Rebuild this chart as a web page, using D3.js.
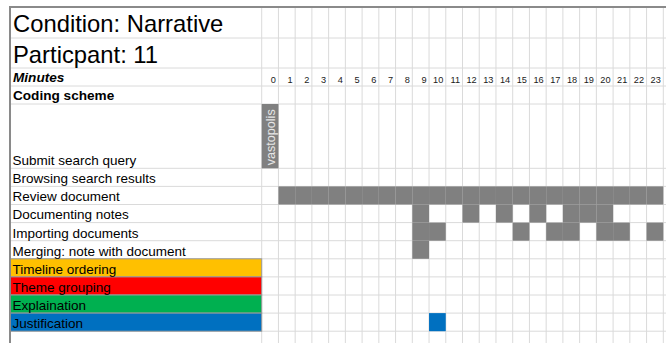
<!DOCTYPE html>
<html>
<head>
<meta charset="utf-8">
<script src="https://cdn.jsdelivr.net/npm/d3@7"></script>
<style>
  html, body { margin: 0; padding: 0; background: #fff; }
  svg { display: block; font-family: "Liberation Sans", Arial, sans-serif; }
</style>
</head>
<body>
<svg id="chart" width="666" height="343"></svg>
<script>
// ---- Data ----
const titleLines = ["Condition: Narrative", "Particpant: 11"];
const minutes = ["0","1","2","3","4","5","6","7","8","9","10","11","12","13","14","15","16","17","18","19","20","21","22","23"];
const codes = ["Submit search query", "Browsing search results", "Review document", "Documenting notes",
               "Importing documents", "Merging: note with document", "Timeline ordering", "Theme grouping",
               "Explaination", "Justification"];
const codeColors = [null, null, null, null, null, null, "#FFC000", "#FF0000", "#00B050", "#0070C0"];
// minutes in which each code occurs
const submitQueries = [{minute: "0", query: "vastopolis"}];
const browsingMinutes = [];
const reviewMinutes = ["1","2","3","4","5","6","7","8","9","10","11","12","13","14","15","16","17","18","19","20","21","22","23"];
const documentingMinutes = ["9","12","14","16","18","19","20"];
const importingMinutes = ["9","10","15","17","18","20","21","23"];
const mergingMinutes = ["9"];
const timelineMinutes = [];
const themeMinutes = [];
const explainMinutes = [];
const justificationMinutes = ["10"];

const rowsMinutes = [
  {code: codes[1], mins: browsingMinutes},
  {code: codes[2], mins: reviewMinutes},
  {code: codes[3], mins: documentingMinutes},
  {code: codes[4], mins: importingMinutes},
  {code: codes[5], mins: mergingMinutes},
  {code: codes[6], mins: timelineMinutes},
  {code: codes[7], mins: themeMinutes},
  {code: codes[8], mins: explainMinutes},
  {code: codes[9], mins: justificationMinutes}
];

// ---- Layout ----
const svg = d3.select("#chart");
const W = 666, H = 343;
const gLeft = 10.5, gTop = 7.5, labelRight = 261.7, gridRight = 663.3;

const x = d3.scaleBand().domain(minutes).range([labelRight, gridRight]);
const headerBounds = [gTop, 38, 68, 86, 104, 168.3];
const rowH = 18.1;
const lowerRows = codes.slice(1).concat(["_blank1", "_blank2"]);
const y = d3.scaleBand().domain(lowerRows).range([168.3, 168.3 + rowH * lowerRows.length]);

const gridColor = "#dadada";
const gray = "#808080";

// grid: horizontal lines
const hLines = headerBounds.slice(1).concat(lowerRows.map(r => y(r) + y.bandwidth()));
svg.append("g").selectAll("line").data(hLines).join("line")
  .attr("x1", gLeft).attr("x2", W).attr("y1", d => d).attr("y2", d => d)
  .attr("stroke", gridColor).attr("stroke-width", 1);

// grid: vertical lines
const vLines = minutes.map(m => x(m)).concat([gridRight]);
svg.append("g").selectAll("line").data(vLines).join("line")
  .attr("x1", d => d).attr("x2", d => d).attr("y1", gTop).attr("y2", H)
  .attr("stroke", gridColor).attr("stroke-width", 1);

// coloured label cells
const colored = codes.map((c, i) => ({c, col: codeColors[i]})).filter(d => d.col);
svg.append("g").selectAll("rect").data(colored).join("rect")
  .attr("x", gLeft).attr("y", d => y(d.c))
  .attr("width", labelRight - gLeft).attr("height", y.bandwidth())
  .attr("fill", d => d.col).attr("stroke", "#9a9a9a").attr("stroke-width", 1);

// activity cells
const cells = [];
rowsMinutes.forEach((r, i) => r.mins.forEach(m => cells.push({code: r.code, m, color: codeColors[i + 1] || gray})));
svg.append("g").selectAll("rect").data(cells).join("rect")
  .attr("x", d => x(d.m)).attr("y", d => y(d.code))
  .attr("width", x.bandwidth()).attr("height", y.bandwidth())
  .attr("fill", d => d.color);

// submit query cells (tall row)
const sq = svg.append("g").selectAll("g").data(submitQueries).join("g");
sq.append("rect")
  .attr("x", d => x(d.minute)).attr("y", headerBounds[4])
  .attr("width", x.bandwidth()).attr("height", headerBounds[5] - headerBounds[4])
  .attr("fill", gray);
sq.append("text")
  .attr("transform", d => `translate(${x(d.minute) + x.bandwidth() / 2 + 4.6},${headerBounds[5] - 3}) rotate(-90)`)
  .attr("font-size", 12.6).attr("fill", "#e6e6e6")
  .text(d => d.query);

// outer border (left & top)
svg.append("line").attr("x1", gLeft - 0.5).attr("x2", gLeft - 0.5).attr("y1", gTop - 1).attr("y2", H)
  .attr("stroke", "#8a8a8a").attr("stroke-width", 2);
svg.append("line").attr("x1", gLeft - 1.5).attr("x2", W).attr("y1", gTop - 0.5).attr("y2", gTop - 0.5)
  .attr("stroke", "#8a8a8a").attr("stroke-width", 2);

// titles
svg.append("g").selectAll("text").data(titleLines).join("text")
  .attr("x", 13).attr("y", (d, i) => [32.3, 63.3][i])
  .attr("font-size", 23.8).attr("fill", "#000").text(d => d);

svg.append("text").attr("x", 13).attr("y", 82)
  .attr("font-size", 13.6).attr("font-weight", "bold").attr("font-style", "italic")
  .text("Minutes");
svg.append("text").attr("x", 13).attr("y", 100)
  .attr("font-size", 13.6).attr("font-weight", "bold")
  .text("Coding scheme");

// minute tick labels (right aligned like a spreadsheet)
svg.append("g").selectAll("text").data(minutes).join("text")
  .attr("x", d => x(d) + x.bandwidth() - 2.5).attr("y", 82.8)
  .attr("text-anchor", "end").attr("font-size", 9.2).attr("fill", "#1a1a1a")
  .text(d => d);

// code labels
const labelRows = codes.map((c, i) => ({c, yb: i === 0 ? headerBounds[5] : y(c) + y.bandwidth()}));
svg.append("g").selectAll("text").data(labelRows).join("text")
  .attr("x", 12.5).attr("y", d => d.yb - 3.2)
  .attr("font-size", 13.5).attr("fill", "#000")
  .text(d => d.c);
</script>
</body>
</html>
